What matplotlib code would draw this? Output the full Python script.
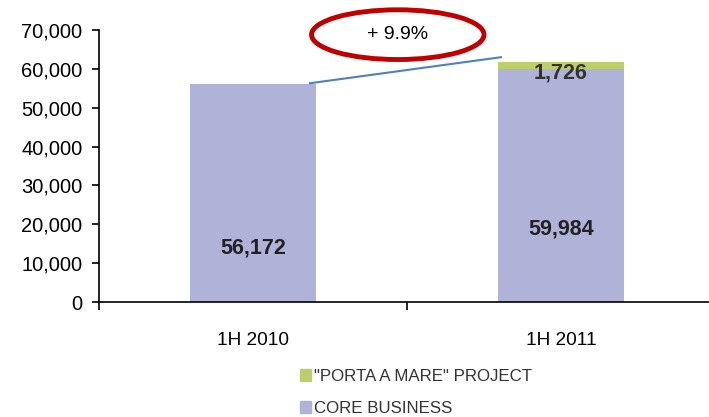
import matplotlib.pyplot as plt
from matplotlib.patches import Ellipse, Patch

plt.rcParams['font.family'] = ['Liberation Sans', 'DejaVu Sans']

# data
categories = ['1H 2010', '1H 2011']
core_business = [56172, 59984]
porta_a_mare = [0, 1726]
growth_label = '+ 9.9%'

core_color = '#b1b2d7'
pam_color = '#bccf6b'

fig = plt.figure(figsize=(7.09, 4.17), dpi=100)
ax = fig.add_axes([99 / 709, 115 / 417, 616 / 709, 272 / 417])

x = list(range(len(categories)))
ax.bar(x, core_business, width=0.41, color=core_color, zorder=2)
ax.bar(x, porta_a_mare, width=0.41, bottom=core_business, color=pam_color, zorder=2)

ax.set_xlim(-0.5, 1.5)
ax.set_ylim(0, 70000)
ax.set_yticks(range(0, 70001, 10000))
ax.set_yticklabels([f'{v:,}' for v in range(0, 70001, 10000)], fontsize=14.5)

# category ticks sit between bars, labels at bar centres
ax.set_xticks([-0.5, 0.5, 1.5])
ax.set_xticklabels([])
ax.tick_params(axis='x', direction='out', length=6, width=1.2, color='black')
ax.tick_params(axis='y', direction='out', length=5, width=1.2, pad=7)
for xi, cat in zip(x, categories):
    ax.text(xi, -0.14, cat, transform=ax.get_xaxis_transform(),
            ha='center', va='center', fontsize=13.7)

for side in ['top', 'right']:
    ax.spines[side].set_visible(False)
ax.spines['left'].set_linewidth(1.2)
ax.spines['bottom'].set_linewidth(1.2)
ax.spines['bottom'].set_clip_on(False)

# value labels
ax.text(0, 14000, f'{core_business[0]:,}', ha='center', va='center',
        fontsize=15.5, fontweight='bold', color='#222222', zorder=3)
ax.text(1, 18700, f'{core_business[1]:,}', ha='center', va='center',
        fontsize=15.5, fontweight='bold', color='#222222', zorder=3)
ax.text(1, 59000, f'{porta_a_mare[1]:,}', ha='center', va='center',
        fontsize=15.5, fontweight='bold', color='#333333', zorder=3)

# growth line and ellipse
ax.plot([0.185, 0.805], [56300, 63000], color='#4f81bd', lw=1.5,
        clip_on=False, zorder=3)
ax.add_patch(Ellipse((0.47, 68800), 0.56, 12800, fill=False,
                     edgecolor='#c00000', lw=3.5, clip_on=False, zorder=4))
ax.text(0.47, 68800, growth_label, ha='center', va='center', fontsize=14,
        clip_on=False)

handles = [Patch(color=pam_color, label='"PORTA A MARE" PROJECT'),
           Patch(color=core_color, label='CORE BUSINESS')]
fig.legend(handles=handles, loc='upper left', bbox_to_anchor=(300 / 709, 1 - 369 / 417),
           frameon=False, fontsize=12.2, handlelength=0.65, handleheight=0.65,
           handletextpad=0.15, labelspacing=1.0, labelcolor='#333333',
           borderpad=0, borderaxespad=0)

fig.savefig('out.png', dpi=100)
